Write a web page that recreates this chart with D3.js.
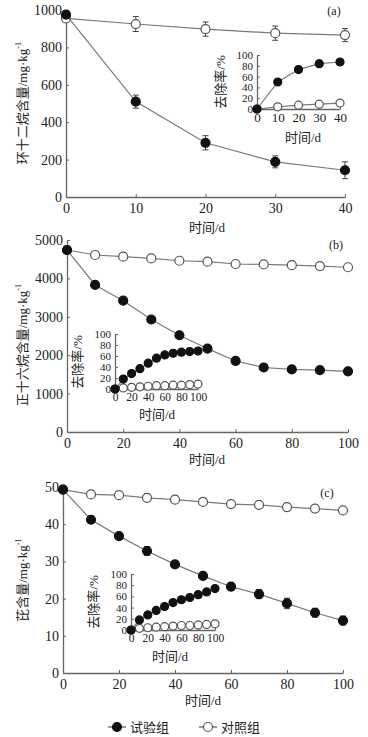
<!DOCTYPE html>
<html>
<head>
<meta charset="utf-8">
<script src="https://cdn.jsdelivr.net/npm/d3@7"></script>
<style>
  body { margin: 0; background: #fff; }
  svg text { fill: #222; }
  .num { font-family: "Liberation Serif", "DejaVu Serif", serif; }
  .cjk { font-family: "Noto Sans CJK SC", sans-serif; }
</style>
</head>
<body>
<svg id="canvas" width="368" height="737"></svg>
<script>
// ---- panel (a): 环十二烷 ----
const daysA = [0, 10, 20, 30, 40];
const testA = [975, 510, 290, 188, 143];
const testAErr = [20, 35, 38, 32, 45];
const ctrlA = [955, 925, 898, 876, 866];
const ctrlAErr = [20, 40, 38, 38, 35];
const remTestA = [0, 50, 73, 84, 87];
const remCtrlA = [0, 4, 7, 9, 11];

// ---- panel (b): 正十六烷 ----
const daysB = [0, 10, 20, 30, 40, 50, 60, 70, 80, 90, 100];
const testB = [4740, 3830, 3420, 2930, 2520, 2170, 1850, 1680, 1630, 1610, 1580];
const testBErr = [50, 60, 60, 70, 60, 60, 70, 80, 60, 60, 70];
const ctrlB = [4740, 4610, 4565, 4520, 4460, 4435, 4375, 4365, 4345, 4320, 4290];
const ctrlBErr = [50, 50, 50, 50, 50, 50, 50, 50, 50, 50, 50];
const remTestB = [0, 18, 28, 37, 47, 56, 62, 65, 67, 68, 69];
const remCtrlB = [0, 2, 3, 4, 5, 6, 6, 7, 7, 8, 9];

// ---- panel (c): 芘 ----
const daysC = [0, 10, 20, 30, 40, 50, 60, 70, 80, 90, 100];
const testC = [49.3, 41.2, 36.8, 32.8, 29.2, 26.1, 23.2, 21.2, 18.7, 16.2, 14.1];
const testCErr = [0.6, 1.0, 0.8, 1.2, 0.8, 1.0, 1.0, 1.2, 1.4, 1.2, 1.2];
const ctrlC = [49.3, 48.0, 47.8, 47.1, 46.6, 46.0, 45.4, 45.2, 44.6, 44.2, 43.7];
const ctrlCErr = [0.6, 0.8, 0.6, 1.0, 1.0, 0.8, 0.8, 0.8, 1.0, 0.6, 0.6];
const remTestC = [0, 18, 27, 35, 42, 49, 54, 58, 63, 68, 74];
const remCtrlC = [0, 3, 4, 5, 6, 7, 8, 8, 9, 10, 11];

const seriesNames = ["试验组", "对照组"];

const svg = d3.select('#canvas');
const AXIS = '#666';
const LINE = '#7a7a7a';

function axes(g, x, y, xTicks, yTicks, xFont, yFont, xPad) {
    let xa = g.append('g')
        .attr('transform', `translate(0,${y.range()[0]})`)
        .call(d3.axisBottom(x).tickValues(xTicks).tickFormat(d3.format('d'))
            .tickSizeInner(-3).tickSizeOuter(0).tickPadding(xPad));
    let ya = g.append('g')
        .attr('transform', `translate(${x.range()[0]},0)`)
        .call(d3.axisLeft(y).tickValues(yTicks).tickFormat(d3.format('d'))
            .tickSizeInner(-3).tickSizeOuter(0).tickPadding(4));
    [xa, ya].forEach(a => {
        a.select('.domain').attr('stroke', AXIS).attr('stroke-width', 1.3);
        a.selectAll('.tick line').attr('stroke', AXIS);
        a.selectAll('.tick text').attr('class', 'num').attr('fill', '#222');
    });
    xa.selectAll('.tick text').attr('font-size', xFont);
    ya.selectAll('.tick text').attr('font-size', yFont);
    return [xa, ya];
}

function series(g, x, y, days, vals, errs, filled, r) {
    let line = d3.line().x((d, i) => x(days[i])).y(d => y(d));
    g.append('path').datum(vals)
        .attr('d', line).attr('fill', 'none')
        .attr('stroke', LINE).attr('stroke-width', 1.2);
    if (errs) {
        let eb = g.append('g').attr('stroke', '#444').attr('stroke-width', 1);
        vals.forEach((v, i) => {
            let cx = x(days[i]);
            eb.append('line').attr('x1', cx).attr('x2', cx).attr('y1', y(v - errs[i])).attr('y2', y(v + errs[i]));
            eb.append('line').attr('x1', cx - 3).attr('x2', cx + 3).attr('y1', y(v - errs[i])).attr('y2', y(v - errs[i]));
            eb.append('line').attr('x1', cx - 3).attr('x2', cx + 3).attr('y1', y(v + errs[i])).attr('y2', y(v + errs[i]));
        });
    }
    g.append('g').selectAll('circle').data(vals).enter()
        .append('circle')
        .attr('cx', (d, i) => x(days[i]))
        .attr('cy', d => y(d))
        .attr('r', r)
        .attr('fill', filled ? '#111' : '#fff')
        .attr('stroke', filled ? '#111' : '#555')
        .attr('stroke-width', 1.2);
}

function ylabel(g, cx, cy, main, fontSize) {
    let t = g.append('text')
        .attr('class', 'cjk')
        .attr('font-size', fontSize)
        .attr('text-anchor', 'middle')
        .attr('transform', `translate(${cx},${cy}) rotate(-90)`);
    t.append('tspan').text(main);
    t.append('tspan').attr('class', 'num').text('/mg·kg');
    t.append('tspan').attr('class', 'num').attr('font-size', fontSize * 0.65).attr('dy', -6).text('-1');
}

function xlabel(g, cx, cy, fontSize) {
    let t = g.append('text').attr('x', cx).attr('y', cy)
        .attr('text-anchor', 'middle').attr('font-size', fontSize);
    t.append('tspan').attr('class', 'cjk').text('时间');
    t.append('tspan').attr('class', 'num').text('/d');
}

function insetYLabel(g, cx, cy) {
    let t = g.append('text').attr('font-size', 13).attr('text-anchor', 'middle')
        .attr('transform', `translate(${cx},${cy}) rotate(-90)`);
    t.append('tspan').attr('class', 'cjk').text('去除率');
    t.append('tspan').attr('class', 'num').text('/%');
}

function panel(cfg) {
    let g = svg.append('g');
    let x = d3.scaleLinear().domain(cfg.xDomain).range(cfg.xRange);
    let y = d3.scaleLinear().domain(cfg.yDomain).range(cfg.yRange);
    axes(g, x, y, cfg.xTicks, cfg.yTicks, 14, 14, 6);
    series(g, x, y, cfg.days, cfg.ctrl, cfg.ctrlErr, false, 4.5);
    series(g, x, y, cfg.days, cfg.test, cfg.testErr, true, 4.5);
    ylabel(g, cfg.yLabelPos[0], cfg.yLabelPos[1], cfg.yName, 13);
    xlabel(g, cfg.xLabelPos[0], cfg.xLabelPos[1], 13);
    g.append('text').attr('class', 'num').attr('x', cfg.tagPos[0]).attr('y', cfg.tagPos[1])
        .attr('font-size', 12).attr('text-anchor', 'middle').text(cfg.tag);

    // inset: removal rate
    let ig = svg.append('g');
    let ix = d3.scaleLinear().domain(cfg.xDomain).range(cfg.inXRange);
    let iy = d3.scaleLinear().domain([0, 100]).range(cfg.inYRange);
    axes(ig, ix, iy, cfg.inXTicks, [0, 20, 40, 60, 80, 100], cfg.inXFont, 11, 4);
    series(ig, ix, iy, cfg.days, cfg.remCtrl, null, false, 4);
    series(ig, ix, iy, cfg.days, cfg.remTest, null, true, 4);
    insetYLabel(ig, cfg.inYLabelPos[0], cfg.inYLabelPos[1]);
    xlabel(ig, cfg.inXLabelPos[0], cfg.inXLabelPos[1], 13);
}

panel({
    days: daysA, test: testA, testErr: testAErr, ctrl: ctrlA, ctrlErr: ctrlAErr,
    remTest: remTestA, remCtrl: remCtrlA,
    xDomain: [0, 40], xRange: [66, 345], xTicks: [0, 10, 20, 30, 40],
    yDomain: [0, 1000], yRange: [197, 10], yTicks: [0, 200, 400, 600, 800, 1000],
    yName: '环十二烷含量', yLabelPos: [27, 103], xLabelPos: [207, 232], tag: '(a)', tagPos: [334, 15],
    inXRange: [257, 340], inYRange: [109, 55], inXTicks: [0, 10, 20, 30, 40], inXFont: 13,
    inYLabelPos: [225, 82], inXLabelPos: [303, 142]
});

panel({
    days: daysB, test: testB, testErr: testBErr, ctrl: ctrlB, ctrlErr: ctrlBErr,
    remTest: remTestB, remCtrl: remCtrlB,
    xDomain: [0, 100], xRange: [67, 348], xTicks: [0, 20, 40, 60, 80, 100],
    yDomain: [0, 5000], yRange: [432, 240], yTicks: [0, 1000, 2000, 3000, 4000, 5000],
    yName: '正十六烷含量', yLabelPos: [27, 345], xLabelPos: [207, 464], tag: '(b)', tagPos: [336, 249],
    inXRange: [115, 198], inYRange: [389, 334], inXTicks: [0, 20, 40, 60, 80, 100], inXFont: 11.5,
    inYLabelPos: [82, 362], inXLabelPos: [157, 419]
});

panel({
    days: daysC, test: testC, testErr: testCErr, ctrl: ctrlC, ctrlErr: ctrlCErr,
    remTest: remTestC, remCtrl: remCtrlC,
    xDomain: [0, 100], xRange: [63, 343], xTicks: [0, 20, 40, 60, 80, 100],
    yDomain: [0, 50], yRange: [673, 487], yTicks: [0, 10, 20, 30, 40, 50],
    yName: '芘含量', yLabelPos: [27, 580], xLabelPos: [203, 705], tag: '(c)', tagPos: [327, 497],
    inXRange: [131, 215], inYRange: [630, 574], inXTicks: [0, 20, 40, 60, 80, 100], inXFont: 11.5,
    inYLabelPos: [98, 602], inXLabelPos: [170, 661]
});

// legend
const legend = svg.append('g').attr('transform', 'translate(0,727)');
const legendX = [108, 199];
seriesNames.forEach((name, i) => {
    let lx = legendX[i];
    legend.append('line').attr('x1', lx).attr('x2', lx + 18).attr('y1', 0).attr('y2', 0)
        .attr('stroke', LINE).attr('stroke-width', 1.5);
    legend.append('circle').attr('cx', lx + 9).attr('cy', 0).attr('r', 4.5)
        .attr('fill', i === 0 ? '#111' : '#fff').attr('stroke', i === 0 ? '#111' : '#555').attr('stroke-width', 1.2);
    legend.append('text').attr('class', 'cjk').attr('x', lx + 22).attr('y', 5)
        .attr('font-size', 13).text(name);
});
</script>
</body>
</html>
